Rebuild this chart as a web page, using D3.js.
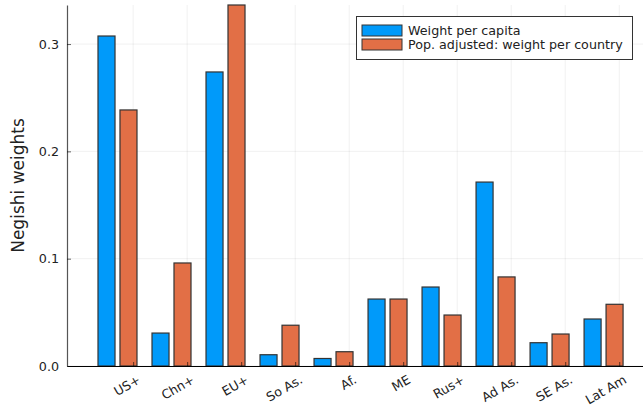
<!DOCTYPE html>
<html>
<head>
<meta charset="utf-8">
<script src="https://cdn.jsdelivr.net/npm/d3@7"></script>
<style>
  html, body { margin: 0; padding: 0; background: #fff; }
  svg { display: block; font-family: "DejaVu Sans", sans-serif; }
  svg text { font-family: "DejaVu Sans", sans-serif; }
</style>
</head>
<body>
<svg id="chart" width="643" height="408"></svg>
<script>
const categories = ["US+", "Chn+", "EU+", "So As.", "Af.", "ME", "Rus+", "Ad As.", "SE As.", "Lat Am"];
const perCapita = [0.3075, 0.0307, 0.274, 0.0105, 0.007, 0.0624, 0.0736, 0.1714, 0.0217, 0.0438];
const popAdjusted = [0.2386, 0.096, 0.3364, 0.038, 0.0133, 0.0624, 0.0475, 0.083, 0.0298, 0.0575];
const seriesNames = ["Weight per capita", "Pop. adjusted: weight per country"];
const yTicks = [0.0, 0.1, 0.2, 0.3];
const yLabel = "Negishi weights";

(function () {
const colors = ["#009AFA", "#E26F46"];
const svg = d3.select("#chart");
const pLeft = 67, pRight = 643, pTop = 5, pBottom = 366;
const fs = 12.7;

const x = d3.scaleLinear().domain([-0.935, 9.73]).range([pLeft, pRight]);
const ymax = d3.max(perCapita.concat(popAdjusted));
const y = d3.scaleLinear().domain([0, ymax]).range([pBottom, pTop]);

const tickOffset = 0.29;
const barOff = [[-0.361, -0.046], [0.046, 0.361]];

// grid
const g = svg.append("g");
g.selectAll("line.vg").data(categories).enter().append("line")
  .attr("x1", (d, i) => x(i + tickOffset)).attr("x2", (d, i) => x(i + tickOffset))
  .attr("y1", pTop).attr("y2", pBottom)
  .attr("stroke", "#000").attr("stroke-opacity", 0.1).attr("stroke-width", 0.6);
g.selectAll("line.hg").data(yTicks).enter().append("line")
  .attr("x1", pLeft).attr("x2", pRight)
  .attr("y1", d => y(d)).attr("y2", d => y(d))
  .attr("stroke", "#000").attr("stroke-opacity", 0.1).attr("stroke-width", 0.6);

// bars
[perCapita, popAdjusted].forEach((vals, s) => {
  svg.append("g").selectAll("rect").data(vals).enter().append("rect")
    .attr("x", (d, i) => x(i + barOff[s][0]))
    .attr("width", (d, i) => x(i + barOff[s][1]) - x(i + barOff[s][0]))
    .attr("y", d => y(d))
    .attr("height", d => y(0) - y(d))
    .attr("fill", colors[s])
    .attr("stroke", "#333").attr("stroke-width", 1.2);
});

// axes
const xAxis = d3.axisBottom(x).tickValues(categories.map((c, i) => i + tickOffset))
  .tickFormat((d, i) => categories[i]).tickSize(0).tickPadding(0);
const xg = svg.append("g").attr("transform", `translate(0,${pBottom})`).call(xAxis)
  .attr("font-family", "DejaVu Sans").attr("font-size", fs);
xg.select(".domain").attr("stroke", "#000").attr("stroke-width", 1);
xg.selectAll(".tick text")
  .attr("font-size", fs).attr("fill", "#222")
  .attr("text-anchor", "end")
  .attr("y", 0).attr("dy", 0)
  .attr("transform", "translate(3,8) rotate(-30)")
  .attr("dominant-baseline", "hanging");
xg.selectAll(".tick").append("line").attr("y1", 0).attr("y2", -4).attr("stroke", "#000").attr("stroke-opacity", 0.6);

const yAxis = d3.axisLeft(y).tickValues(yTicks).tickFormat(d3.format(".1f")).tickSize(0).tickPadding(8);
const yg = svg.append("g").attr("transform", `translate(${pLeft},0)`).call(yAxis)
  .attr("font-family", "DejaVu Sans").attr("font-size", fs);
yg.select(".domain").attr("stroke", "#555").attr("stroke-width", 1.2);
yg.selectAll(".tick text").attr("font-size", fs).attr("fill", "#222");
yg.selectAll(".tick").append("line").attr("x1", 0).attr("x2", 4).attr("stroke", "#000").attr("stroke-opacity", 0.6);

// y label
svg.append("text")
  .attr("transform", `translate(24,${(pTop + pBottom) / 2}) rotate(-90)`)
  .attr("text-anchor", "middle")
  .attr("font-size", 17).attr("fill", "#222")
  .text(yLabel);

// legend
const lg = svg.append("g");
lg.append("rect").attr("x", 356.5).attr("y", 16.5).attr("width", 276).attr("height", 43)
  .attr("fill", "#fff").attr("stroke", "#333").attr("stroke-width", 1);
seriesNames.forEach((name, s) => {
  lg.append("rect").attr("x", 362).attr("y", 25 + s * 14).attr("width", 40).attr("height", 11)
    .attr("fill", colors[s]).attr("stroke", "#333").attr("stroke-width", 1);
  lg.append("text").attr("x", 408).attr("y", 30.5 + s * 14)
    .attr("dominant-baseline", "central")
    .attr("font-size", fs).attr("fill", "#222").text(name);
});
})();
</script>
</body>
</html>
